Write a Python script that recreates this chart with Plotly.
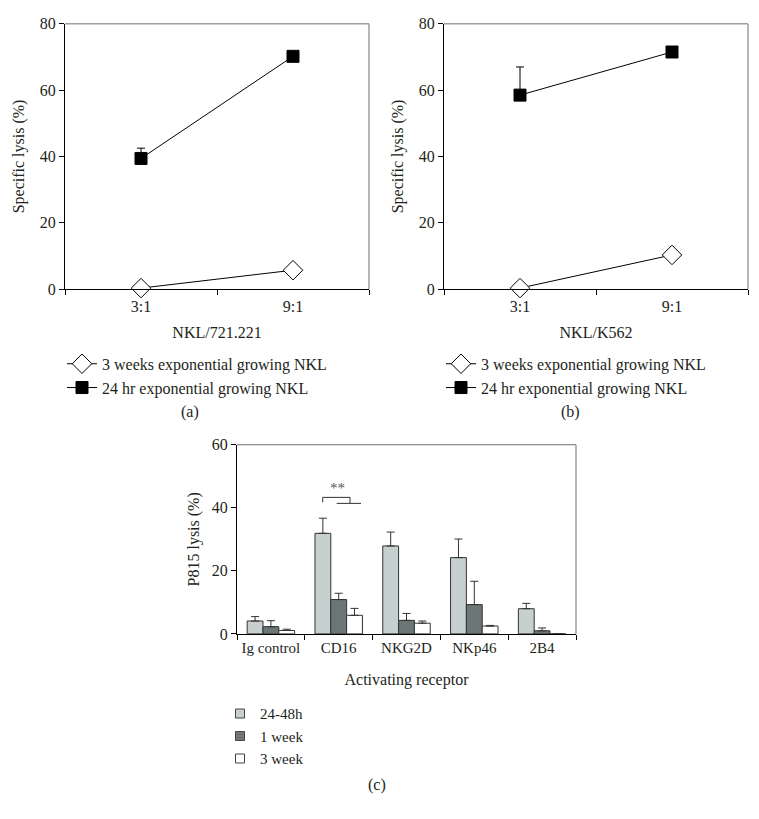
import plotly.graph_objects as go

W, H = 759, 819
OFF = 8  # default page body margin of the written html
FW, FH = W - 2 * OFF, H - 2 * OFF

# ---- data ----
ratios = ["3:1", "9:1"]
a_3wk = [0.3, 5.7]
a_24hr = [39.4, 70.2]
a_24hr_err = [3.1, 0.0]
b_3wk = [0.3, 10.3]
b_24hr = [58.5, 71.5]
b_24hr_err = [8.5, 0.0]

receptors = ["Ig control", "CD16", "NKG2D", "NKp46", "2B4"]
c_2448h = [4.1, 31.9, 27.9, 24.2, 8.0]
c_2448h_err = [1.4, 4.8, 4.4, 5.9, 1.7]
c_1wk = [2.3, 10.9, 4.3, 9.3, 1.0]
c_1wk_err = [1.9, 2.0, 2.2, 7.4, 0.9]
c_3wk = [1.1, 5.9, 3.4, 2.5, 0.0]
c_3wk_err = [0.4, 2.2, 0.7, 0.2, 0.0]

series_names = ["3 weeks exponential growing NKL", "24 hr exponential growing NKL"]
bar_names = ["24-48h", "1 week", "3 week"]

FONT = "Liberation Serif"
TXT = "#231f20"


def px(x):
    return (x - OFF) / FW


def py(y):
    return 1 - (y - OFF) / FH


fig = go.Figure()

for i, (v3, v24, e24) in enumerate([(a_3wk, a_24hr, a_24hr_err), (b_3wk, b_24hr, b_24hr_err)]):
    xa = "x" if i == 0 else "x2"
    ya = "y" if i == 0 else "y2"
    lg = "legend" if i == 0 else "legend2"
    fig.add_trace(go.Scatter(
        x=ratios, y=v3, name=series_names[0], mode="lines+markers", cliponaxis=False,
        line=dict(color="black", width=1),
        marker=dict(symbol="diamond", size=15, color="white", line=dict(color="black", width=1)),
        xaxis=xa, yaxis=ya, legend=lg))
    fig.add_trace(go.Scatter(
        x=ratios, y=v24, name=series_names[1], mode="lines+markers", cliponaxis=False,
        line=dict(color="black", width=1),
        marker=dict(symbol="square", size=12, color="black", line=dict(color="black", width=1)),
        error_y=dict(type="data", symmetric=False, array=e24, arrayminus=[0] * len(e24),
                     color="black", thickness=1, width=4),
        xaxis=xa, yaxis=ya, legend=lg))

bar_colors = ["#c6d0ce", "#6c7676", "#ffffff"]
for name, vals, errs, col in zip(bar_names, [c_2448h, c_1wk, c_3wk],
                                 [c_2448h_err, c_1wk_err, c_3wk_err], bar_colors):
    fig.add_trace(go.Bar(
        x=receptors, y=vals, name=name, showlegend=False,
        marker=dict(color=col, line=dict(color="#333333", width=1)),
        error_y=dict(type="data", symmetric=False, array=errs, arrayminus=[0] * len(errs),
                     color="#333333", thickness=1, width=4),
        xaxis="x3", yaxis="y3"))
    # small square legend key for the bar series
    fig.add_trace(go.Scatter(
        x=[None], y=[None], name=name, mode="markers",
        marker=dict(symbol="square", size=9, color=col, line=dict(color="#444444", width=1)),
        xaxis="x3", yaxis="y3", legend="legend3"))

axis_common = dict(
    showline=True, linecolor="black", linewidth=1, ticks="outside", ticklen=5,
    tickcolor="black", showgrid=False, zeroline=False,
    tickfont=dict(family=FONT, size=16, color=TXT),
    title_font=dict(family=FONT, size=16, color=TXT))

leg_common = dict(xanchor="left", yanchor="top", bgcolor="rgba(0,0,0,0)",
                  font=dict(family=FONT, size=16, color=TXT), tracegroupgap=0, itemwidth=30,
                  traceorder="normal")

fig.update_layout(
    width=FW, height=FH, margin=dict(l=0, r=0, t=0, b=0),
    paper_bgcolor="white", plot_bgcolor="white", showlegend=True,
    barmode="group", bargap=0.3, bargroupgap=0,
    font=dict(family=FONT, size=16, color=TXT),
    xaxis=dict(domain=[px(65), px(369)], anchor="y", type="category", range=[-0.5, 1.5],
               tickson="boundaries", tickangle=0, ticklabelstandoff=3,
               title=dict(text="NKL/721.221", standoff=12), **axis_common),
    yaxis=dict(domain=[py(287), py(16)], anchor="x", range=[0, 80], dtick=20,
               title=dict(text="Specific lysis (%)", standoff=11), **axis_common),
    xaxis2=dict(domain=[px(444), px(748)], anchor="y2", type="category", range=[-0.5, 1.5],
                tickson="boundaries", tickangle=0, ticklabelstandoff=3,
                title=dict(text="NKL/K562", standoff=12), **axis_common),
    yaxis2=dict(domain=[py(287), py(16)], anchor="x2", range=[0, 80], dtick=20,
                title=dict(text="Specific lysis (%)", standoff=11), **axis_common),
    xaxis3=dict(domain=[px(237), px(576)], anchor="y3", type="category", range=[-0.5, 4.5],
                tickson="boundaries", tickangle=0,
                title=dict(text="Activating receptor", standoff=18), **axis_common),
    yaxis3=dict(domain=[py(639.3), py(446)], anchor="x3", range=[0, 60], dtick=20,
                title=dict(text="P815 lysis (%)", standoff=8), **axis_common),
    legend=dict(x=px(62), y=py(346), **leg_common),
    legend2=dict(x=px(441), y=py(346), **leg_common),
    legend3=dict(x=px(220), y=py(704), **{**leg_common, "font": dict(family=FONT, size=15, color=TXT)}),
)
fig.update_xaxes(tickfont_size=15, selector=dict(anchor="y3"))

# gray top/right frame lines
for xr, yr in [("x", "y"), ("x2", "y2"), ("x3", "y3")]:
    fig.add_shape(type="line", xref=f"{xr} domain", yref=f"{yr} domain", x0=0, x1=1, y0=1, y1=1,
                  line=dict(color="#6f6f6f", width=1))
    fig.add_shape(type="line", xref=f"{xr} domain", yref=f"{yr} domain", x0=1, x1=1, y0=0, y1=1,
                  line=dict(color="#6f6f6f", width=1))

# significance bracket on CD16
br = dict(color="#333333", width=1)
fig.add_shape(type="line", xref="x3", yref="y3", x0=0.764, x1=0.764, y0=41.75, y1=43.3, line=br)
fig.add_shape(type="line", xref="x3", yref="y3", x0=0.764, x1=1.167, y0=43.3, y1=43.3, line=br)
fig.add_shape(type="line", xref="x3", yref="y3", x0=1.167, x1=1.167, y0=43.3, y1=41.4, line=br)
fig.add_shape(type="line", xref="x3", yref="y3", x0=0.97, x1=1.329, y0=41.4, y1=41.4, line=br)
fig.add_annotation(xref="paper", yref="paper", x=px(337), y=py(490), text="**", showarrow=False,
                   xanchor="center", yanchor="middle",
                   font=dict(family=FONT, size=15, color="#555555"))

for label, x, y in [("(a)", 190, 413), ("(b)", 570, 413), ("(c)", 377, 794)]:
    fig.add_annotation(xref="paper", yref="paper", x=px(x), y=py(y), text=label, showarrow=False,
                       xanchor="center", yanchor="middle",
                       font=dict(family=FONT, size=16, color=TXT))

fig.write_html("out.html")
